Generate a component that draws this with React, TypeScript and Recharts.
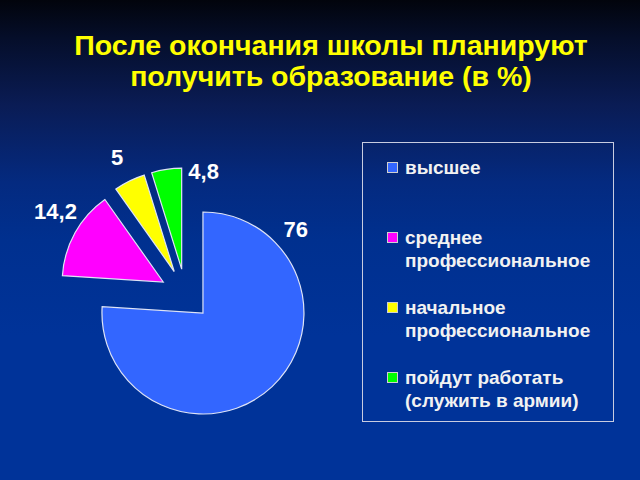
import React from 'react';
import { PieChart, Pie, Cell, Legend } from 'recharts';

const titleLines = ['После окончания школы планируют', 'получить образование (в %)'];
const categories = [
  'высшее',
  'среднее профессиональное',
  'начальное профессиональное',
  'пойдут работать (служить в армии)',
];
const legendLines = [
  ['высшее'],
  ['среднее', 'профессиональное'],
  ['начальное', 'профессиональное'],
  ['пойдут работать', '(служить в армии)'],
];
const values = [76, 14.2, 5, 4.8];
const valueLabels = ['76', '14,2', '5', '4,8'];
const colors = ['#3366FF', '#FF00FF', '#FFFF00', '#00FF00'];

const data = categories.map((name, i) => ({ name, value: values[i] }));

// geometry / style
const CX = 185.5;
const CY = 294.4;
const R = 101;
const EXPLODE = 25.5;
const START = 90;
const END = -270;
const labelShift = [88.9, -4.2, 0.3, -21.3];
const labelExt = [24, 28, 26.5, -1];
const FONT = '"Liberation Sans", Arial, sans-serif';

const total = values.reduce((a, b) => a + b, 0);
const mids: number[] = [];
{
  let cum = 0;
  values.forEach((v) => {
    mids.push(START + (END - START) * (cum + v / 2) / total);
    cum += v;
  });
}
const RAD = Math.PI / 180;

const makeLabel = (slice: number) => (props: any) => {
  const { cx, cy, midAngle, outerRadius, index } = props;
  if (index !== slice) return null;
  const a = (midAngle + labelShift[slice]) * RAD;
  const r = outerRadius + labelExt[slice];
  const x = cx + r * Math.cos(a);
  const y = cy - r * Math.sin(a);
  return (
    <text
      x={x}
      y={y}
      textAnchor="middle"
      dominantBaseline="central"
      fill="#FFFFFF"
      fontFamily={FONT}
      fontWeight="bold"
      fontSize={22}
    >
      {valueLabels[slice]}
    </text>
  );
};

const LegendBox = () => (
  <div
    style={{
      position: 'relative',
      width: 252,
      height: 280,
      border: '1px solid #c8cce0',
      boxSizing: 'border-box',
      fontFamily: FONT,
      fontWeight: 'bold',
      fontSize: 19,
      color: '#F2F2F2',
    }}
  >
    {legendLines.map((lines, i) => (
      <div
        key={categories[i]}
        style={{ position: 'absolute', left: 24, top: 13 + 70 * i, lineHeight: '23px' }}
      >
        <span
          style={{
            position: 'absolute',
            left: 0,
            top: 6,
            width: 11,
            height: 11,
            background: colors[i],
            border: '1px solid #d0d0d0',
            boxSizing: 'border-box',
          }}
        />
        <div style={{ marginLeft: 18, whiteSpace: 'nowrap' }}>
          {lines.map((l) => (
            <div key={l}>{l}</div>
          ))}
        </div>
      </div>
    ))}
  </div>
);

export default function App() {
  return (
    <div
      style={{
        position: 'relative',
        width: 640,
        height: 480,
        overflow: 'hidden',
        background:
          'linear-gradient(to bottom, #02040c 0%, #050e2a 8%, #0a1c55 22%, #042a80 38%, #00308f 50%, #003399 70%, #003399 100%)',
      }}
    >
      <style>{`body{margin:0}`}</style>
      <div
        style={{
          position: 'absolute',
          left: 22,
          top: 30,
          width: 618,
          textAlign: 'center',
          fontFamily: FONT,
          fontWeight: 'bold',
          fontSize: 28.5,
          lineHeight: '31px',
          color: '#FFFF00',
        }}
      >
        {titleLines.map((t) => (
          <div key={t}>{t}</div>
        ))}
      </div>
      <div style={{ position: 'absolute', left: 0, top: 0 }}>
        <PieChart width={640} height={480} margin={{ top: 0, right: 0, bottom: 0, left: 0 }}>
          {values.map((_, i) => (
            <Pie
              key={i}
              data={data}
              dataKey="value"
              nameKey="name"
              cx={CX + EXPLODE * Math.cos(mids[i] * RAD)}
              cy={CY - EXPLODE * Math.sin(mids[i] * RAD)}
              outerRadius={R}
              startAngle={START}
              endAngle={END}
              isAnimationActive={false}
              label={makeLabel(i)}
              labelLine={false}
              legendType="none"
            >
              {data.map((d, j) => (
                <Cell
                  key={d.name}
                  fill={j === i ? colors[j] : 'transparent'}
                  stroke={j === i ? '#dfe4f5' : 'none'}
                  strokeWidth={1.2}
                />
              ))}
            </Pie>
          ))}
          <Legend
            content={() => <LegendBox />}
            wrapperStyle={{ left: 362, top: 142, width: 252, height: 280, bottom: 'auto', right: 'auto' }}
          />
        </PieChart>
      </div>
    </div>
  );
}
